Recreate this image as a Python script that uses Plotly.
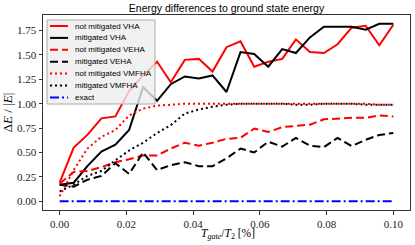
import plotly.graph_objects as go

# ---------------- data ----------------
t_ratio = [0.0, 0.0042, 0.0083, 0.0125, 0.0167, 0.0208, 0.025, 0.0292, 0.0333, 0.0375,
           0.0417, 0.0458, 0.05, 0.0542, 0.0583, 0.0625, 0.0667, 0.0708, 0.075, 0.0792,
           0.0833, 0.0875, 0.0917, 0.0958, 0.1]

nm_vha = [0.19, 0.55, 0.68, 0.85, 0.87, 1.13, 1.29, 1.43, 1.22, 1.45, 1.46, 1.33, 1.58,
          1.64, 1.38, 1.43, 1.46, 1.66, 1.53, 1.52, 1.61, 1.78, 1.80, 1.60, 1.81]
m_vha = [0.17, 0.19, 0.36, 0.51, 0.58, 0.73, 1.17, 1.03, 1.20, 1.28, 1.26, 1.29, 1.12,
         1.53, 1.51, 1.38, 1.56, 1.52, 1.68, 1.79, 1.79, 1.79, 1.76, 1.82, 1.82]
nm_veha = [0.18, 0.30, 0.31, 0.35, 0.40, 0.43, 0.47, 0.47, 0.54, 0.60, 0.57, 0.60, 0.64,
           0.65, 0.745, 0.71, 0.76, 0.77, 0.785, 0.84, 0.85, 0.855, 0.855, 0.88, 0.87]
m_veha = [0.17, 0.15, 0.22, 0.26, 0.39, 0.28, 0.50, 0.32, 0.37, 0.40, 0.36, 0.36, 0.44,
          0.54, 0.50, 0.61, 0.56, 0.65, 0.57, 0.555, 0.65, 0.565, 0.63, 0.68, 0.70]
nm_vmfha = [0.05, 0.32, 0.54, 0.66, 0.73, 0.88, 0.95, 0.98, 0.99, 1.0, 1.0, 1.0, 1.0,
            1.0, 1.0, 1.0, 1.0, 1.0, 1.0, 1.0, 1.0, 1.0, 1.0, 0.99, 0.99]
m_vmfha = [0.10, 0.17, 0.26, 0.31, 0.42, 0.52, 0.60, 0.70, 0.78, 0.90, 0.94, 0.97, 0.99,
           1.0, 1.0, 1.0, 1.0, 0.99, 0.99, 1.0, 1.0, 1.0, 0.99, 0.99, 0.99]
exact = [0.0, 0.0, 0.0, 0.0, 0.0, 0.0, 0.0, 0.0, 0.0, 0.0, 0.0, 0.0, 0.0,
         0.0, 0.0, 0.0, 0.0, 0.0, 0.0, 0.0, 0.0, 0.0, 0.0, 0.0, 0.0]

names = ["not mitigated VHA", "mitigated VHA", "not mitigated VEHA", "mitigated VEHA",
         "not mitigated VMFHA", "mitigated VMFHA", "exact"]
series = [nm_vha, m_vha, nm_veha, m_veha, nm_vmfha, m_vmfha, exact]

x_ticks = [0.0, 0.02, 0.04, 0.06, 0.08, 0.10]
y_ticks = [0.0, 0.25, 0.5, 0.75, 1.0, 1.25, 1.5, 1.75]

# ---------------- styles ----------------
colors = ["#ff0000", "#000000", "#ff0000", "#000000", "#ff0000", "#000000", "#0000ff"]
dashes = ["solid", "solid", "8px,4px", "8px,4px", "2px,3px", "2px,3px", "9px,3px,2px,3px"]

W, H = 415, 245
ML, MR, MT, MB = 43, 5, 15, 35
PW, PH = W - ML - MR, H - MT - MB

fig = go.Figure()
for name, ys, c, d in zip(names, series, colors, dashes):
    fig.add_trace(go.Scatter(x=t_ratio, y=ys, mode="lines", name=name,
                             line=dict(color=c, width=2, dash=d), showlegend=False))

serif = "Liberation Serif, DejaVu Serif, serif"
sans = "Liberation Sans, Arial, sans-serif"

fig.update_layout(
    width=W, height=H,
    margin=dict(l=ML, r=MR, t=MT, b=MB),
    paper_bgcolor="white", plot_bgcolor="white",
    title=dict(text="Energy differences to ground state energy",
               font=dict(family=sans, size=10.5, color="black"),
               x=(ML + PW / 2) / W, xanchor="center", y=1 - 8.5 / H, yanchor="middle"),
)
fig.update_xaxes(range=[-0.005, 0.105], tickvals=x_ticks, tickformat=".2f",
                 showgrid=False, zeroline=False, showline=True, mirror=True,
                 linecolor="#333", linewidth=1, ticks="outside", ticklen=3.5,
                 tickcolor="#333", ticklabelstandoff=0,
                 tickfont=dict(family=serif, size=11, color="#222"))
fig.update_yaxes(range=[-0.09, 1.91], tickvals=y_ticks, tickformat=".2f",
                 showgrid=False, zeroline=False, showline=True, mirror=True,
                 linecolor="#333", linewidth=1, ticks="outside", ticklen=3.5,
                 tickcolor="#333", tickfont=dict(family=serif, size=11, color="#222"),
                 title=dict(text="Δ<i>E</i> / |<i>E</i>|",
                            font=dict(family=serif, size=13, color="black"), standoff=1))


def px_x(p):
    return (p - ML) / PW


def px_y(p):
    return (MT + PH - p) / PH


# x-axis title
fig.add_annotation(xref="paper", yref="paper", x=px_x(228), y=px_y(234),
                   text="<i>T</i><sub><i>gate</i></sub>/<i>T</i><sub>2</sub> [%]",
                   showarrow=False, xanchor="center", yanchor="middle",
                   font=dict(family=serif, size=11.5, color="black"))

# ---------------- legend (drawn as overlay) ----------------
box = (47, 20, 155, 104)
fig.add_shape(type="rect", xref="paper", yref="paper", layer="above",
              x0=px_x(box[0]), x1=px_x(box[2]), y0=px_y(box[3]), y1=px_y(box[1]),
              fillcolor="rgba(238,238,238,0.8)", line=dict(color="#aaaaaa", width=1))
row0, pitch = 26.0, 11.9
for k, (name, c, d) in enumerate(zip(names, colors, dashes)):
    yy = px_y(row0 + k * pitch)
    fig.add_shape(type="line", xref="paper", yref="paper", layer="above",
                  x0=px_x(50), x1=px_x(68), y0=yy, y1=yy,
                  line=dict(color=c, width=2, dash=d))
    fig.add_annotation(xref="paper", yref="paper", x=px_x(73), y=yy, text=name,
                       showarrow=False, xanchor="left", yanchor="middle",
                       font=dict(family=sans, size=8, color="black"))

fig.write_html("out.html", config={"displayModeBar": False},
               post_script="document.body.style.margin='0';")
